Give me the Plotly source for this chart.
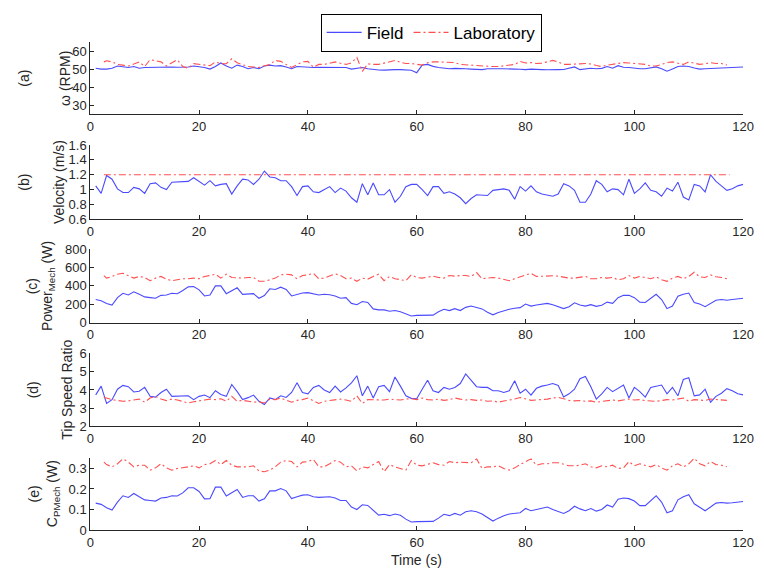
import plotly.graph_objects as go

# ---------------- data ----------------
time_field = list(range(1, 121))
time_lab = [2.5] + list(range(3, 118))

omega_field = [50.5, 50.0, 50.0, 50.5, 51.7, 51.5, 50.9, 51.4, 50.5, 50.9,
               51.0, 51.0, 50.9, 51.0, 51.2, 51.0, 51.0, 51.2, 51.7, 51.4,
               50.9, 50.0, 51.4, 53.4, 51.7, 50.5, 52.2, 51.4, 50.2, 50.9,
               50.2, 51.7, 52.2, 51.7, 51.9, 51.2, 50.2, 51.4, 51.2, 50.9,
               50.9, 51.0, 50.9, 50.9, 51.0, 50.9, 50.9, 50.0, 50.5, 50.9,
               50.2, 49.7, 49.5, 49.4, 49.7, 49.7, 49.7, 49.5, 49.4, 48.0,
               52.2, 52.6, 51.5, 50.9, 50.6, 50.2, 50.4, 50.5, 50.2, 50.0,
               49.7, 49.7, 50.2, 50.0, 50.2, 50.2, 49.9, 50.0, 49.9, 49.7,
               50.0, 49.7, 49.7, 49.6, 49.5, 49.7, 49.8, 50.6, 51.2, 49.7,
               50.2, 50.5, 50.2, 50.4, 51.4, 50.5, 51.9, 51.0, 50.9, 50.5,
               50.2, 50.2, 50.6, 51.2, 50.2, 48.8, 50.0, 51.4, 51.7, 51.4,
               50.6, 50.0, 50.2, 50.4, 50.5, 50.8, 50.9, 50.9, 51.0, 51.2]
omega_lab = [54.0, 54.6, 54.0, 52.6, 52.2, 51.7, 52.8, 54.0, 51.4, 55.3,
             54.6, 54.0, 51.7, 53.5, 55.2, 51.4, 50.5, 53.0, 52.6, 52.2,
             51.9, 54.0, 53.0, 53.0, 55.7, 53.5, 52.6, 51.4, 51.2, 50.9,
             51.9, 52.5, 54.8, 54.3, 52.5, 50.9, 52.5, 54.0, 54.3, 51.0,
             52.6, 52.6, 53.2, 54.0, 53.2, 52.6, 53.5, 56.5, 48.7, 52.9,
             52.6, 52.6, 53.3, 54.0, 54.8, 53.8, 53.1, 53.1, 52.6, 52.2,
             53.5, 54.0, 54.0, 53.8, 53.8, 53.6, 52.6, 52.4, 52.0, 51.9,
             51.4, 51.6, 51.4, 51.4, 51.9, 52.2, 52.6, 54.3, 53.4, 53.6,
             53.1, 53.3, 54.2, 54.8, 53.9, 52.6, 52.6, 52.6, 52.9, 53.1,
             52.8, 52.0, 51.4, 52.2, 52.6, 53.2, 53.6, 53.4, 53.1, 52.9,
             52.6, 51.7, 51.7, 52.6, 53.6, 54.0, 53.5, 52.6, 54.0, 53.3,
             52.6, 53.0, 53.6, 53.1, 53.1, 52.2]

velocity_field = [1.05, 0.95, 1.19, 1.14, 1.01, 0.96, 0.96, 1.03, 1.01, 0.95,
                  1.08, 1.09, 1.03, 1.00, 1.10, 1.10, 1.10, 1.11, 1.16, 1.11,
                  1.06, 1.12, 1.05, 1.07, 1.08, 0.94, 1.05, 1.14, 1.13, 1.07,
                  1.14, 1.25, 1.17, 1.16, 1.12, 1.12, 1.04, 0.92, 1.04, 1.05,
                  0.97, 0.96, 1.00, 1.04, 0.96, 1.02, 0.98, 0.89, 0.83, 1.08,
                  0.93, 1.09, 0.93, 0.93, 1.00, 0.83, 0.91, 1.04, 1.07, 1.07,
                  1.00, 0.92, 1.04, 1.04, 0.95, 0.97, 0.94, 0.89, 0.81, 0.88,
                  0.93, 0.93, 0.92, 0.99, 1.00, 1.01, 0.99, 0.87, 1.04, 0.98,
                  1.05, 0.97, 0.94, 0.92, 0.91, 0.94, 1.08, 1.05, 0.99, 0.83,
                  0.83, 0.94, 1.12, 1.07, 0.97, 1.01, 1.00, 0.93, 1.14, 0.95,
                  1.01, 1.09, 0.99, 0.97, 0.91, 1.02, 0.98, 1.10, 0.90, 0.86,
                  1.07, 1.05, 0.97, 1.20, 1.11, 1.05, 0.99, 1.01, 1.05, 1.07]
velocity_lab_t = [2.5, 117.5]
velocity_lab = [1.2, 1.2]

power_field = [251, 237, 209, 191, 272, 319, 301, 336, 308, 280,
               272, 265, 297, 301, 319, 315, 350, 389, 393, 357,
               290, 301, 400, 400, 315, 343, 379, 308, 315, 315,
               265, 294, 368, 361, 386, 361, 290, 308, 322, 326,
               315, 301, 308, 304, 290, 265, 272, 209, 195, 230,
               219, 149, 138, 138, 124, 131, 117, 96, 71, 78,
               81, 85, 81, 117, 145, 131, 152, 131, 166, 180,
               166, 149, 113, 85, 110, 131, 145, 156, 163, 202,
               180, 191, 202, 209, 195, 173, 152, 173, 216, 191,
               180, 195, 177, 188, 223, 209, 272, 297, 297, 272,
               223, 219, 265, 308, 251, 152, 180, 287, 308, 322,
               219, 202, 173, 209, 244, 251, 244, 251, 255, 265]
power_lab = [513, 485, 503, 527, 538, 513, 485, 503, 492, 457,
             485, 503, 474, 457, 467, 478, 478, 485, 478, 503,
             513, 527, 485, 527, 492, 485, 485, 492, 492, 450,
             450, 467, 485, 520, 527, 520, 478, 513, 520, 538,
             478, 485, 510, 531, 513, 478, 485, 450, 485, 474,
             503, 527, 457, 503, 478, 467, 457, 520, 492, 485,
             492, 506, 492, 485, 513, 506, 513, 513, 503, 545,
             478, 485, 492, 485, 474, 457, 478, 499, 520, 538,
             503, 506, 503, 510, 506, 492, 485, 485, 492, 503,
             478, 478, 492, 485, 492, 467, 478, 513, 485, 503,
             492, 478, 499, 467, 450, 485, 503, 478, 503, 549,
             499, 492, 520, 499, 492, 478]

tsr_field = [3.73, 4.21, 3.26, 3.47, 4.04, 4.25, 4.18, 3.89, 3.93, 4.14,
             3.65, 3.61, 3.86, 4.04, 3.65, 3.65, 3.65, 3.68, 3.47, 3.65,
             3.72, 3.58, 3.96, 3.75, 3.65, 4.30, 3.91, 3.47, 3.58, 3.72,
             3.38, 3.20, 3.56, 3.47, 3.68, 3.59, 3.86, 4.39, 3.86, 3.79,
             4.14, 4.25, 4.00, 3.86, 4.21, 3.89, 4.11, 4.39, 4.78, 3.68,
             4.21, 3.56, 4.18, 4.25, 3.91, 4.71, 4.21, 3.68, 3.54, 3.52,
             4.04, 4.53, 3.96, 3.86, 4.14, 4.04, 4.14, 4.35, 4.88, 4.50,
             4.18, 4.14, 4.14, 3.96, 3.96, 3.86, 3.96, 4.50, 3.82, 4.04,
             3.72, 4.09, 4.21, 4.27, 4.35, 4.25, 3.61, 3.79, 4.04, 4.62,
             4.74, 4.18, 3.50, 3.79, 4.14, 3.91, 4.09, 4.27, 3.56, 4.14,
             3.91, 3.61, 4.14, 4.21, 4.27, 3.79, 4.14, 3.68, 4.57, 4.67,
             3.68, 3.73, 4.04, 3.33, 3.65, 3.82, 4.07, 3.96, 3.79, 3.73]
tsr_lab = [3.58, 3.56, 3.47, 3.43, 3.38, 3.40, 3.43, 3.50, 3.33, 3.56,
           3.65, 3.50, 3.42, 3.50, 3.45, 3.38, 3.29, 3.35, 3.42, 3.45,
           3.50, 3.47, 3.52, 3.38, 3.65, 3.38, 3.43, 3.40, 3.33, 3.35,
           3.29, 3.50, 3.47, 3.56, 3.43, 3.33, 3.43, 3.47, 3.56, 3.43,
           3.26, 3.38, 3.42, 3.47, 3.50, 3.45, 3.38, 3.68, 3.26, 3.47,
           3.45, 3.47, 3.45, 3.50, 3.47, 3.45, 3.50, 3.52, 3.47, 3.56,
           3.47, 3.45, 3.50, 3.43, 3.47, 3.56, 3.50, 3.45, 3.47, 3.43,
           3.45, 3.38, 3.40, 3.33, 3.40, 3.43, 3.50, 3.59, 3.50, 3.43,
           3.45, 3.47, 3.50, 3.56, 3.59, 3.52, 3.43, 3.40, 3.42, 3.38,
           3.40, 3.33, 3.38, 3.43, 3.45, 3.40, 3.45, 3.50, 3.45, 3.47,
           3.42, 3.40, 3.38, 3.42, 3.47, 3.45, 3.52, 3.56, 3.38, 3.47,
           3.45, 3.42, 3.50, 3.47, 3.43, 3.43]

cp_field = [0.131, 0.125, 0.109, 0.097, 0.136, 0.167, 0.159, 0.178, 0.162, 0.147,
            0.144, 0.141, 0.156, 0.159, 0.167, 0.166, 0.181, 0.206, 0.206, 0.188,
            0.152, 0.153, 0.209, 0.209, 0.166, 0.183, 0.198, 0.159, 0.167, 0.167,
            0.141, 0.152, 0.191, 0.191, 0.202, 0.191, 0.153, 0.162, 0.170, 0.172,
            0.162, 0.159, 0.161, 0.162, 0.156, 0.144, 0.144, 0.112, 0.100, 0.123,
            0.120, 0.094, 0.073, 0.077, 0.070, 0.078, 0.072, 0.053, 0.039, 0.041,
            0.042, 0.042, 0.042, 0.058, 0.077, 0.070, 0.081, 0.072, 0.089, 0.094,
            0.089, 0.078, 0.059, 0.044, 0.058, 0.070, 0.078, 0.081, 0.084, 0.105,
            0.094, 0.100, 0.105, 0.112, 0.100, 0.089, 0.081, 0.094, 0.116, 0.103,
            0.094, 0.105, 0.092, 0.100, 0.122, 0.112, 0.150, 0.156, 0.153, 0.141,
            0.119, 0.119, 0.141, 0.167, 0.136, 0.084, 0.094, 0.147, 0.162, 0.172,
            0.128, 0.112, 0.094, 0.112, 0.131, 0.134, 0.131, 0.133, 0.136, 0.139]
cp_lab = [0.331, 0.319, 0.308, 0.323, 0.347, 0.331, 0.308, 0.316, 0.316, 0.292,
          0.303, 0.323, 0.303, 0.292, 0.300, 0.303, 0.308, 0.313, 0.303, 0.319,
          0.323, 0.339, 0.319, 0.339, 0.316, 0.308, 0.308, 0.308, 0.313, 0.288,
          0.284, 0.292, 0.308, 0.331, 0.339, 0.334, 0.308, 0.331, 0.334, 0.344,
          0.308, 0.308, 0.323, 0.339, 0.331, 0.308, 0.313, 0.288, 0.308, 0.303,
          0.319, 0.334, 0.284, 0.319, 0.308, 0.300, 0.292, 0.339, 0.316, 0.313,
          0.319, 0.328, 0.319, 0.316, 0.334, 0.328, 0.331, 0.331, 0.328, 0.347,
          0.300, 0.308, 0.308, 0.313, 0.300, 0.292, 0.303, 0.319, 0.331, 0.347,
          0.316, 0.323, 0.323, 0.328, 0.328, 0.319, 0.313, 0.313, 0.316, 0.323,
          0.308, 0.303, 0.313, 0.308, 0.316, 0.300, 0.303, 0.334, 0.313, 0.323,
          0.316, 0.308, 0.319, 0.303, 0.292, 0.313, 0.323, 0.308, 0.323, 0.350,
          0.323, 0.313, 0.334, 0.319, 0.316, 0.308]

x_ticks = [0, 20, 40, 60, 80, 100, 120]
panel_letters = ["(a)", "(b)", "(c)", "(d)", "(e)"]
panel_titles = ["ω (RPM)", "Velocity (m/s)", "Power<sub>Mech</sub> (W)",
                "Tip Speed Ratio", "C<sub>PMech</sub> (W)"]
y_ranges = [[25, 65], [0.6, 1.6], [0, 800], [2, 6], [0, 0.35]]
y_ticks = [[30, 40, 50, 60],
           [0.6, 0.8, 1.0, 1.2, 1.4, 1.6],
           [0, 200, 400, 600, 800],
           [2, 3, 4, 5, 6],
           [0, 0.1, 0.2, 0.3]]
y_ticktext = [["30", "40", "50", "60"],
              ["0.6", "0.8", "1", "1.2", "1.4", "1.6"],
              ["0", "200", "400", "600", "800"],
              ["2", "3", "4", "5", "6"],
              ["0", "0.1", "0.2", "0.3"]]

for arr in (omega_field, velocity_field, power_field, tsr_field, cp_field):
    assert len(arr) == len(time_field), len(arr)
for arr in (omega_lab, power_lab, tsr_lab, cp_lab):
    assert len(arr) == len(time_lab), len(arr)

# ---------------- layout geometry (pixels) ----------------
W, H = 764, 576
x_left, x_right = 88, 754
panels_px = [(36, 110), (141.7, 218), (248.7, 324), (355.7, 430.7), (463.3, 537)]
letter_x = [21, 21, 28, 30, 31]
title_x = [62, 56, 45, 64, 50]

FONT = "Liberation Sans, Arial, sans-serif"
AX = "#262626"
BLUE = "#4a4aff"
RED = "#ff5050"

fig = go.Figure()
field_series = [(time_field, omega_field), (time_field, velocity_field), (time_field, power_field),
                (time_field, tsr_field), (time_field, cp_field)]
lab_series = [(time_lab, omega_lab), (velocity_lab_t, velocity_lab), (time_lab, power_lab),
              (time_lab, tsr_lab), (time_lab, cp_lab)]

for i in range(5):
    sfx = "" if i == 0 else str(i + 1)
    fx, fy = field_series[i]
    lx, ly = lab_series[i]
    fig.add_trace(go.Scatter(x=fx, y=fy, mode="lines", name="Field",
                             line=dict(color=BLUE, width=1.1),
                             xaxis="x" + sfx, yaxis="y" + sfx, showlegend=(i == 0)))
    fig.add_trace(go.Scatter(x=lx, y=ly, mode="lines", name="Laboratory",
                             line=dict(color=RED, width=1.1, dash="7px,3px,2px,3px"),
                             xaxis="x" + sfx, yaxis="y" + sfx, showlegend=(i == 0)))

layout = dict(
    width=W, height=H,
    margin=dict(l=0, r=0, t=0, b=0),
    paper_bgcolor="white", plot_bgcolor="white",
    font=dict(family=FONT, size=13, color=AX),
    legend=dict(orientation="h", x=323 / W, y=1 - 7 / H, xanchor="left", yanchor="top",
                bordercolor="#000000", borderwidth=1, bgcolor="white",
                font=dict(family=FONT, size=17, color="#000000"),
                itemwidth=35, tracegroupgap=0),
    annotations=[],
)

for i, (top, bot) in enumerate(panels_px):
    sfx = "" if i == 0 else str(i + 1)
    dom = [1 - bot / H, 1 - top / H]
    layout["xaxis" + sfx] = dict(
        domain=[x_left / W, x_right / W], anchor="y" + sfx, range=[0, 120],
        tickvals=x_ticks, ticks="inside", ticklen=4, tickcolor=AX,
        ticklabeloverflow="allow",
        showline=True, linecolor=AX, linewidth=1, showgrid=False, zeroline=False,
        tickfont=dict(family=FONT, size=13, color=AX))
    layout["yaxis" + sfx] = dict(
        domain=dom, anchor="x" + sfx, range=y_ranges[i],
        tickvals=y_ticks[i], ticktext=y_ticktext[i], ticks="inside", ticklen=4, tickcolor=AX,
        showline=True, linecolor=AX, linewidth=1, showgrid=False, zeroline=False,
        tickfont=dict(family=FONT, size=13, color=AX))
    yc = 1 - (top + bot) / 2 / H
    layout["annotations"].append(dict(
        text=panel_letters[i], x=letter_x[i] / W, y=yc, xref="paper", yref="paper",
        textangle=-90, showarrow=False, xanchor="center", yanchor="middle",
        font=dict(family=FONT, size=14, color=AX)))
    layout["annotations"].append(dict(
        text=panel_titles[i], x=title_x[i] / W, y=yc, xref="paper", yref="paper",
        textangle=-90, showarrow=False, xanchor="center", yanchor="middle",
        font=dict(family=FONT, size=14, color=AX)))

layout["annotations"].append(dict(
    text="Time (s)", x=(x_left + x_right) / 2 / W, y=1 - 568 / H, xref="paper", yref="paper",
    showarrow=False, xanchor="center", yanchor="middle",
    font=dict(family=FONT, size=14, color=AX)))

fig.update_layout(**layout)
fig.write_html("out.html")
